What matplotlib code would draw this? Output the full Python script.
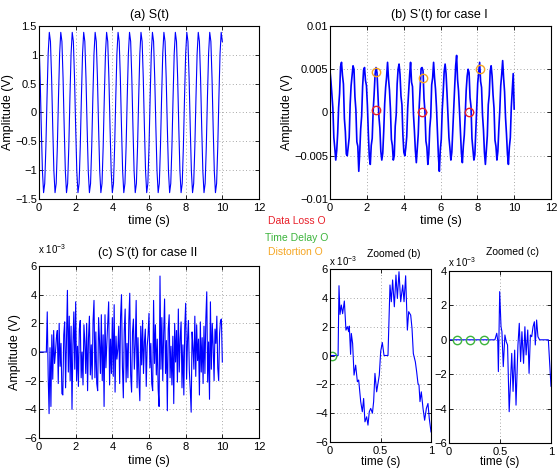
import matplotlib
matplotlib.use('Agg')
import matplotlib.pyplot as plt
import numpy as np
from matplotlib.ticker import FuncFormatter

plt.rcParams['font.family'] = ['Liberation Sans', 'DejaVu Sans']
plt.rcParams['mathtext.fontset'] = 'custom'
plt.rcParams['mathtext.rm'] = 'Liberation Sans'
plt.rcParams['mathtext.it'] = 'Liberation Sans:italic'

W, H = 558, 469
BLUE = '#0000ff'
RED = '#e8202a'
GREEN = '#3cb43c'
ORANGE = '#f5a623'

# (a) S(t): one period, 16 periods over 10 s
a_period = [1.23, 0.60, -0.26, -1.02, -1.39, -1.23, -0.60, 0.26, 1.02, 1.39]
a_vals = a_period * 16 + [a_period[0]]

# (b) S'(t) case I, values in 1e-3 V, 12 samples per period
b_vals = [
    4.8, 3.6, 2.1, 0.5, -2.9, -4.1, -5.5, -4.4, -2.4, 0.6, 2.2, 5.3,
    5.8, 4.3, 3.3, -0.7, -2.2, -4.8, -5.0, -3.9, -2.9, 0.9, 3.1, 4.2,
    5.4, 5.0, 1.8, 0.3, -3.4, -3.9, -6.8, -4.6, -1.9, -0.4, 3.0, 4.9,
    5.2, 3.7, 3.1, 0.8, -2.5, -5.2, -6.0, -3.8, -3.0, 0.2, 2.1, 4.4,
    5.2, 4.6, 2.0, -0.5, -1.8, -4.5, -5.5, -4.7, -2.2, 1.0, 2.9, 4.1,
    5.8, 3.9, 2.6, 0.4, -3.1, -3.8, -5.5, -5.0, -1.6, -0.3, 3.3, 5.0,
    5.6, 4.4, 1.9, 0.9, -2.6, -4.6, -5.0, -4.1, -2.8, 0.5, 2.4, 4.3,
    5.8, 3.5, 3.0, -0.2, -2.1, -4.4, -5.8, -4.2, -2.5, 0.7, 2.8, 5.1,
    5.2, 4.8, 1.6, 0.1, -3.3, -4.0, -6.0, -4.8, -1.8, -0.5, 3.2, 4.0,
    5.8, 4.0, 2.7, 0.6, -2.3, -5.0, -6.8, -4.3, -3.1, 0.3, 2.3, 4.7,
    5.6, 4.5, 2.2, -0.4, -2.9, -4.1, -5.5, -4.6, -2.0, 0.8, 3.0, 5.4,
    6.6, 3.8, 2.5, 0.2, -2.4, -4.7, -5.8, -3.9, -2.6, -0.2, 2.6, 4.2,
    5.0, 4.6, 1.7, 0.7, -3.0, -4.2, -5.5, -4.9, -2.2, 0.4, 3.4, 4.6,
    5.8, 3.6, 2.9, -0.3, -2.0, -4.6, -6.0, -4.3, -2.7, 0.9, 2.0, 4.8,
    5.4, 4.2, 2.0, 0.5, -3.2, -3.9, -5.5, -4.5, -1.9, 0.2, 3.1, 4.4,
    6.0, 4.0, 2.4, -0.6, -2.5, -4.8, -6.0, -4.0, -2.9, 0.6, 2.6, 4.5,
    0.4,
]
# circled points in (b)
loss_t = [2.5, 4.97, 7.56]
loss_v = [0.0003, 0.0, 0.0001]
dist_t = [2.5, 5.06, 8.17]
dist_v = [0.00465, 0.004, 0.005]

# (c) S'(t) case II, values in 1e-3 V, every 0.05 s
c_vals = [
    0, 0, 0, 0, 0, 0, 0, 0, 0, 2.8, -1.6, -4.3, 0.3, -3.8, 1.2, -1.9, 1.5, -0.8, 0, 1.0,
    1.5, -2.2, 2.0, -1.0, 0.6, -2.9, -3.0, 1.2, 2.1, -2.5, 0.8, 4.3, -1.4, 2.5, -2.0, 1.8, -4.0, 0.5, 2.8, -1.2,
    3.5, -2.0, 0.4, -2.4, 1.6, 2.2, -1.8, 0, -2.3, 1.9, 0.7, -1.5, 2.0, -2.7, 1.0, 2.5, -1.6, 0.5, -1.9, 2.2,
    3.6, -1.8, 1.4, -2.2, -2.7, 2.4, 0.8, -1.5, 2.6, -2.0, 1.2, -3.8, 2.6, -1.1, 0.6, 2.0, 3.5, -2.3, 0.9, -1.5,
    2.4, -1.7, 3.3, -2.8, 1.1, -0.5, 0.2, 1.8, -2.2, 2.5, 4.0, -1.0, -3.2, 1.5, 3.0, -2.1, 0.6, -1.8, 2.2, 4.1,
    -1.6, -2.8, 1.4, 2.3, -1.2, 0.5, 3.6, -2.5, 1.0, -1.9, -3.4, 1.8, -0.9, 2.2, -1.5, 0.7, 1.6, -2.4, 0.4, 1.2,
    2.7, -1.1, 0.6, -2.2, -2.7, 3.6, -0.8, 1.9, -1.6, 0.9, -2.6, -3.8, 5.3, -1.2, 2.4, -2.0, 1.3, 3.7, -1.5, 0.8,
    -4.1, 1.6, 2.6, -1.8, 0.4, -2.3, 1.1, -3.6, 2.0, -0.7, 1.5, -2.1, 3.0, -1.4, 0.9, 2.1, -2.5, 0.5, -3.0, 1.7,
    3.4, -1.9, 0.8, 2.2, -1.3, -2.6, -4.2, 1.4, 0.3, -1.2, 2.5, -1.7, 1.9, -0.6, 0.9, -3.0, 2.1, -1.4, 1.0, -2.2,
    1.8, -1.5, 2.3, 4.2, -2.1, 0.7, -3.3, 3.5, -1.2, 2.0, 0.4, -2.0, 1.6, 0.6, 2.5, -1.1, -2.0, 1.3, 2.2, 2.3, -0.7,
]

# zoomed (b), values in 1e-3 V
zb_t = [0, 0.08, 0.089, 0.099, 0.112, 0.125, 0.142, 0.158, 0.172, 0.185, 0.191, 0.204, 0.211,
        0.224, 0.238, 0.254, 0.271, 0.284, 0.304, 0.32, 0.333, 0.346, 0.363, 0.376, 0.389,
        0.403, 0.42, 0.432, 0.445, 0.462, 0.475, 0.488, 0.502, 0.518, 0.535, 0.574, 0.594,
        0.607, 0.62, 0.637, 0.653, 0.667, 0.683, 0.7, 0.72, 0.733, 0.749, 0.766, 0.779, 0.799,
        0.812, 0.825, 0.845, 0.858, 0.871, 0.881, 0.891, 0.904, 0.921, 0.937, 0.954, 0.97,
        0.983, 1.0]
zb_v = [0, 0, 4.84, 2.85, 3.5, 2.9, 3.78, 1.76, 2.0, 1.65, 2.04, 0.08, 1.53,
        0.84, -1.36, -0.67, -1.82, -1.7, -3.2, -3.9, -2.98, -4.6, -4.25, -4.83, -3.9,
        -3.67, -4.0, -3.2, -1.24, -2.52, -1.94, -1.36, 0.3, 0.9, 0, 0, 4.89,
        3.73, 5.24, 3.38, 5.58, 3.96, 5.81, 3.73, 4.89, 3.73, 5.53, 1.76, 3.04, 2.8,
        1.88, 0.14, -0.44, -1.13, -1.94, -2.05, -3.2, -2.52, -3.67, -4.49, -3.67, -3.33,
        -4.37, -5.3]
zb_delay_t = [0.02]
zb_delay_v = [0]

# zoomed (c), values in 1e-3 V
zc_t = [0, 0.45, 0.468, 0.478, 0.484, 0.497, 0.51, 0.519, 0.532, 0.548, 0.561, 0.574, 0.59,
        0.603, 0.615, 0.628, 0.644, 0.657, 0.676, 0.689, 0.702, 0.715, 0.731, 0.744, 0.756,
        0.772, 0.785, 0.798, 0.811, 0.824, 0.837, 0.846, 0.859, 0.872, 0.888, 0.974, 1.0]
zc_v = [0, 0, 0.38, -0.05, -1.85, 2.8, 0.76, 0.47, -1.56, 0.28, -0.11, -0.3, -4.18,
        -2.44, -0.79, -3.0, -0.6, -3.8, -0.3, 0.96, -1.27, 0.47, -1.37, 0.76, -0.88,
        0.57, -1.95, 0.28, 0.18, 0.76, 1.05, -0.3, 1.15, 0.18, 0, 0, -2.7]
zc_delay_t = [0.083, 0.205, 0.343]
zc_delay_v = [0, 0, 0]


def fmt(v, pos):
    return ('%g' % round(v, 6)).replace('-', '\u2212')


def px_axes(fig, x0, y0, x1, y1):
    return fig.add_axes([x0 / W, 1 - y1 / H, (x1 - x0) / W, (y1 - y0) / H])


def ftext(fig, x, y, s, **kw):
    kw.setdefault('ha', 'center')
    kw.setdefault('va', 'center')
    fig.text(x / W, 1 - y / H, s, **kw)


def style(ax, xlim, xticks, ylim, yticks):
    ax.set_xlim(*xlim)
    ax.set_ylim(*ylim)
    ax.set_xticks(xticks)
    ax.set_yticks(yticks)
    ax.xaxis.set_major_formatter(FuncFormatter(fmt))
    ax.yaxis.set_major_formatter(FuncFormatter(fmt))
    ax.grid(True, color='0.55', linestyle=(0, (1, 3)), linewidth=0.6)
    ax.tick_params(direction='in', top=True, right=True, length=3, width=0.6,
                   labelsize=8)
    ax.tick_params(axis='x', pad=3)
    ax.tick_params(axis='y', pad=1.5)
    for s in ax.spines.values():
        s.set_linewidth(0.8)


fig = plt.figure(figsize=(W / 100, H / 100), dpi=100)

# (a)
ax = px_axes(fig, 39, 26, 259, 199)
ax.plot(np.linspace(0, 10, len(a_vals)), a_vals, color=BLUE, lw=0.8)
style(ax, (0, 12), range(0, 13, 2), (-1.5, 1.5), np.arange(-1.5, 1.51, 0.5))
ax.set_xlabel('time (s)', fontsize=9)
ax.xaxis.set_label_coords(0.5, -0.09)
ax.set_ylabel('Amplitude (V)', fontsize=9)
ax.yaxis.set_label_coords(-0.115, 0.5)
ftext(fig, 149, 15, '(a) S(t)', fontsize=9)

# (b)
ax = px_axes(fig, 330, 26, 551, 199)
ax.plot(np.linspace(0, 10, len(b_vals)), np.array(b_vals) * 1e-3, color=BLUE, lw=1.2)
ax.plot(loss_t, loss_v, 'o', mfc='none', mec=RED, ms=6, mew=1)
ax.plot(dist_t, dist_v, 'o', mfc='none', mec=ORANGE, ms=6, mew=1)
style(ax, (0, 12), range(0, 13, 2), (-0.01, 0.01), np.arange(-0.01, 0.0101, 0.005))
ax.set_xlabel('time (s)', fontsize=9)
ax.xaxis.set_label_coords(0.5, -0.09)
ax.set_ylabel('Amplitude (V)', fontsize=9)
ax.yaxis.set_label_coords(-0.168, 0.5)
ftext(fig, 439, 15, '(b) S\u2019(t) for case I', fontsize=9)

# (c)
ax = px_axes(fig, 39, 266, 259, 438)
ax.plot(np.linspace(0, 10, len(c_vals)), c_vals, color=BLUE, lw=0.8)
style(ax, (0, 12), range(0, 13, 2), (-6, 6), range(-6, 7, 2))
ax.set_xlabel('time (s)', fontsize=9)
ax.xaxis.set_label_coords(0.5, -0.1)
ax.set_ylabel('Amplitude (V)', fontsize=9)
ax.yaxis.set_label_coords(-0.08, 0.5)
ftext(fig, 148, 253, '(c) S\u2019(t) for case II', fontsize=9)
ftext(fig, 38, 249, r'x 10$^{\mathregular{-3}}$', fontsize=7, ha='left')

# zoomed (b)
ax = px_axes(fig, 330, 269, 431, 442)
ax.plot(zb_t, zb_v, color=BLUE, lw=0.8)
ax.plot(zb_delay_t, zb_delay_v, 'o', mfc='none', mec=GREEN, ms=6, mew=1)
style(ax, (0, 1), [0, 0.5, 1], (-6, 6), range(-6, 7, 2))
ax.set_xlabel('time (s)', fontsize=8.5)
ax.xaxis.set_label_coords(0.5, -0.083)
ftext(fig, 394, 254, 'Zoomed (b)', fontsize=7.5)
ftext(fig, 329, 261, r'x 10$^{\mathregular{-3}}$', fontsize=7, ha='left')

# zoomed (c)
ax = px_axes(fig, 449, 271, 551, 443)
ax.plot(zc_t, zc_v, color=BLUE, lw=0.8)
ax.plot(zc_delay_t, zc_delay_v, 'o', mfc='none', mec=GREEN, ms=6, mew=1)
style(ax, (0, 1), [0, 0.5, 1], (-6, 4), range(-6, 5, 2))
ax.set_xlabel('time (s)', fontsize=8.5)
ax.xaxis.set_label_coords(0.5, -0.078)
ftext(fig, 513, 252, 'Zoomed (c)', fontsize=7.5)
ftext(fig, 448, 262, r'x 10$^{\mathregular{-3}}$', fontsize=7, ha='left')

# marker key
ftext(fig, 297, 221, 'Data Loss O', fontsize=7.5, color=RED)
ftext(fig, 297, 238, 'Time Delay O', fontsize=7.5, color=GREEN)
ftext(fig, 295, 252, 'Distortion O', fontsize=7.5, color=ORANGE)

fig.savefig('out.png', dpi=100)
